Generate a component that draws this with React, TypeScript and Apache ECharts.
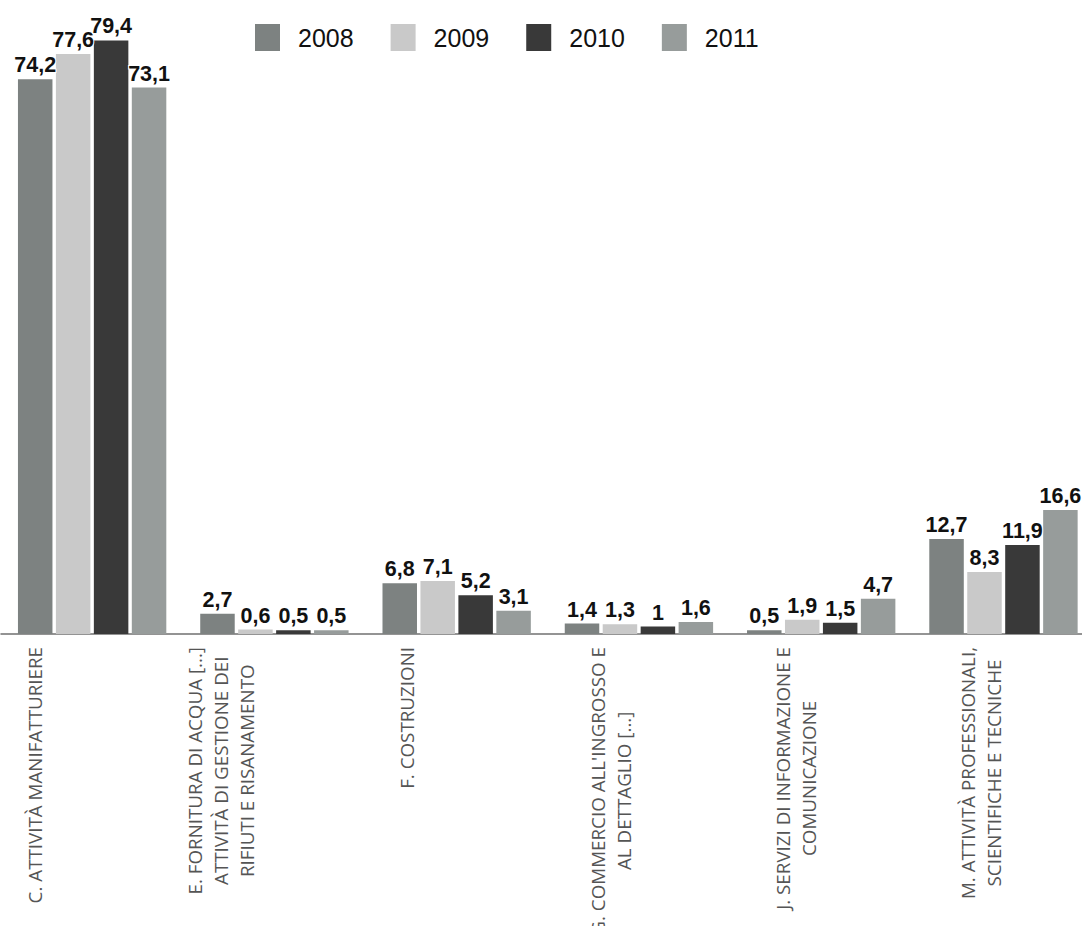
import React, { useEffect, useRef } from "react";
import * as echarts from "echarts";

const categories: string[] = [
  "C. ATTIVITÀ MANIFATTURIERE",
  "E. FORNITURA DI ACQUA [...]\nATTIVITÀ DI GESTIONE DEI\nRIFIUTI E RISANAMENTO",
  "F. COSTRUZIONI",
  "G. COMMERCIO ALL'INGROSSO E\nAL DETTAGLIO [...]",
  "J. SERVIZI DI INFORMAZIONE E\nCOMUNICAZIONE",
  "M. ATTIVITÀ PROFESSIONALI,\nSCIENTIFICHE E TECNICHE",
];

const years: string[] = ["2008", "2009", "2010", "2011"];

const values2008: number[] = [74.2, 2.7, 6.8, 1.4, 0.5, 12.7];
const values2009: number[] = [77.6, 0.6, 7.1, 1.3, 1.9, 8.3];
const values2010: number[] = [79.4, 0.5, 5.2, 1.0, 1.5, 11.9];
const values2011: number[] = [73.1, 0.5, 3.1, 1.6, 4.7, 16.6];

const seriesValues: number[][] = [values2008, values2009, values2010, values2011];
const colors: string[] = ["#7d8281", "#c9c9c9", "#393939", "#979c9b"];

// label shift (spacer height) per category, styling only
const labelSpacer: number[] = [114, 107, 100, 55, 50, 45];

export default function App() {
  const ref = useRef<HTMLDivElement>(null);

  useEffect(() => {
    if (!ref.current) return;
    const chart = echarts.init(ref.current, undefined, { renderer: "svg" });

    const rich: any = {
      l: {
        fontFamily: "'Open Sans', 'Noto Sans', sans-serif",
        fontSize: 18.8,
        color: "#555555",
        lineHeight: 26,
        align: "center",
      },
    };
    labelSpacer.forEach((h, i) => {
      rich["s" + i] = { fontSize: 2, lineHeight: h, height: h };
    });

    chart.setOption({
      animation: false,
      backgroundColor: "#ffffff",
      legend: {
        data: years,
        left: 250,
        top: 19,
        icon: "rect",
        itemWidth: 25,
        itemHeight: 27,
        itemGap: 37,
        textStyle: {
          fontFamily: "'Liberation Sans', Arial, sans-serif",
          fontSize: 25,
          color: "#111",
          padding: [0, 0, 0, 13],
        },
      },
      grid: {
        left: 1,
        width: 1093.6,
        top: 36,
        bottom: 292,
        containLabel: false,
        outerBoundsMode: "none",
      },
      xAxis: {
        type: "category",
        data: categories,
        axisLine: { show: true, lineStyle: { color: "#707070", width: 1.5 } },
        axisTick: { show: false },
        axisLabel: {
          interval: 0,
          rotate: 90,
          margin: 13,
          formatter: (val: string, idx: number) => {
            const lines = val.split("\n").map((t) => "{l|" + t + "}");
            lines.push("{s" + idx + "| }");
            return lines.join("\n");
          },
          rich,
        },
      },
      yAxis: {
        type: "value",
        min: 0,
        max: 80,
        show: false,
        splitLine: { show: false },
      },
      series: years.map((y, i) => ({
        name: y,
        type: "bar",
        data: seriesValues[i],
        barWidth: 34.5,
        barGap: "10%",
        itemStyle: { color: colors[i] },
        label: {
          show: true,
          position: "top",
          distance: 3,
          fontFamily: "'Liberation Sans', Arial, sans-serif",
          fontWeight: "bold",
          fontSize: 21.5,
          color: "#111",
          textBorderColor: "#ffffff",
          textBorderWidth: 2,
          formatter: (p: any) => String(p.value).replace(".", ","),
        },
      })),
    });

    return () => chart.dispose();
  }, []);

  return (
    <div
      ref={ref}
      style={{ position: "absolute", left: 0, top: 0, width: 1082, height: 926 }}
    />
  );
}
